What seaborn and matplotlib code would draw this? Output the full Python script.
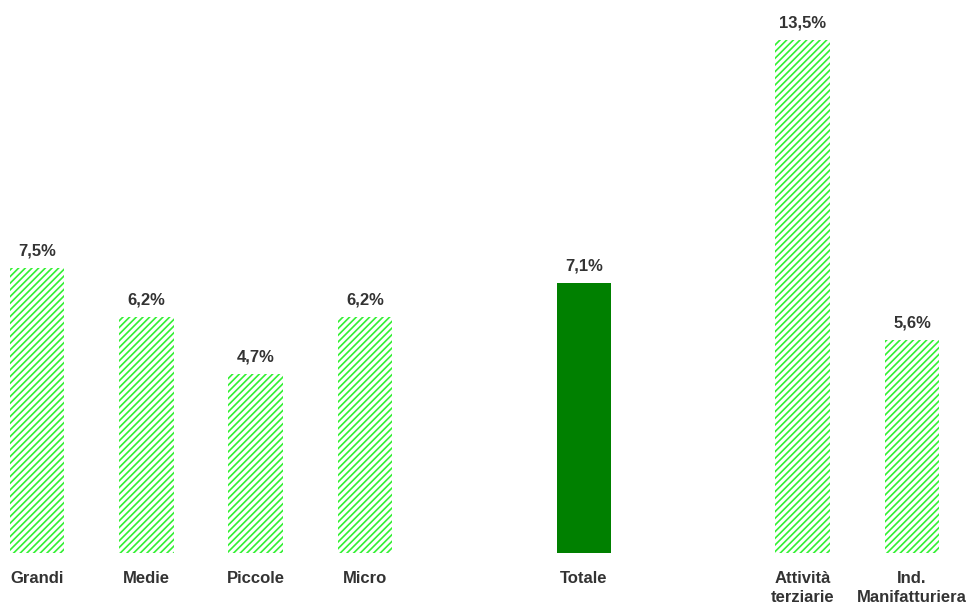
import matplotlib
matplotlib.use('Agg')
import matplotlib.pyplot as plt
import seaborn as sns
import pandas as pd

categories = ['Grandi', 'Medie', 'Piccole', 'Micro', 'Totale',
              'Attività\nterziarie', 'Ind.\nManifatturiera']
values = [7.5, 6.2, 4.7, 6.2, 7.1, 13.5, 5.6]
value_labels = ['7,5%', '6,2%', '4,7%', '6,2%', '7,1%', '13,5%', '5,6%']
# empty slots between groups
order = ['Grandi', 'Medie', 'Piccole', 'Micro', ' ', 'Totale', '  ',
         'Attività\nterziarie', 'Ind.\nManifatturiera']

sns.set_style('white')
plt.rcParams['font.family'] = ['Liberation Sans', 'DejaVu Sans']
plt.rcParams['hatch.linewidth'] = 1.2

df = pd.DataFrame({'cat': categories, 'val': values})

fig = plt.figure(figsize=(9.7, 6.05), dpi=100)
ax = fig.add_axes([0, 52 / 605, 1, 553 / 605])

sns.barplot(data=df, x='cat', y='val', order=order, width=0.5,
            color='white', ax=ax)

hatch_green = '#33f033'
bars = [p for p in ax.patches if p.get_height() > 0]
for patch, cat in zip(bars, categories):
    patch.set_linewidth(0)
    if cat == 'Totale':
        patch.set_facecolor('#008000')
        patch.set_edgecolor('#008000')
    else:
        patch.set_facecolor('white')
        patch.set_edgecolor(hatch_green)
        patch.set_hatch('/////')

for patch, lab in zip(bars, value_labels):
    ax.annotate(lab, (patch.get_x() + patch.get_width() / 2, patch.get_height()),
                xytext=(0, 7), textcoords='offset points', ha='center', va='bottom',
                fontsize=12, fontweight='bold', color='#333333')

ax.set_xlim(-0.338, 8.53)
ax.set_ylim(0, 14.55)
ax.set_xlabel('')
ax.set_ylabel('')
ax.set_yticks([])
for s in ax.spines.values():
    s.set_visible(False)
ax.tick_params(axis='x', length=0, pad=13)
for t in ax.get_xticklabels():
    t.set_fontsize(12)
    t.set_fontweight('bold')
    t.set_color('#333333')
    t.set_linespacing(1.35)
ax.set_facecolor('white')

fig.savefig('out.png', dpi=100, facecolor='white')
